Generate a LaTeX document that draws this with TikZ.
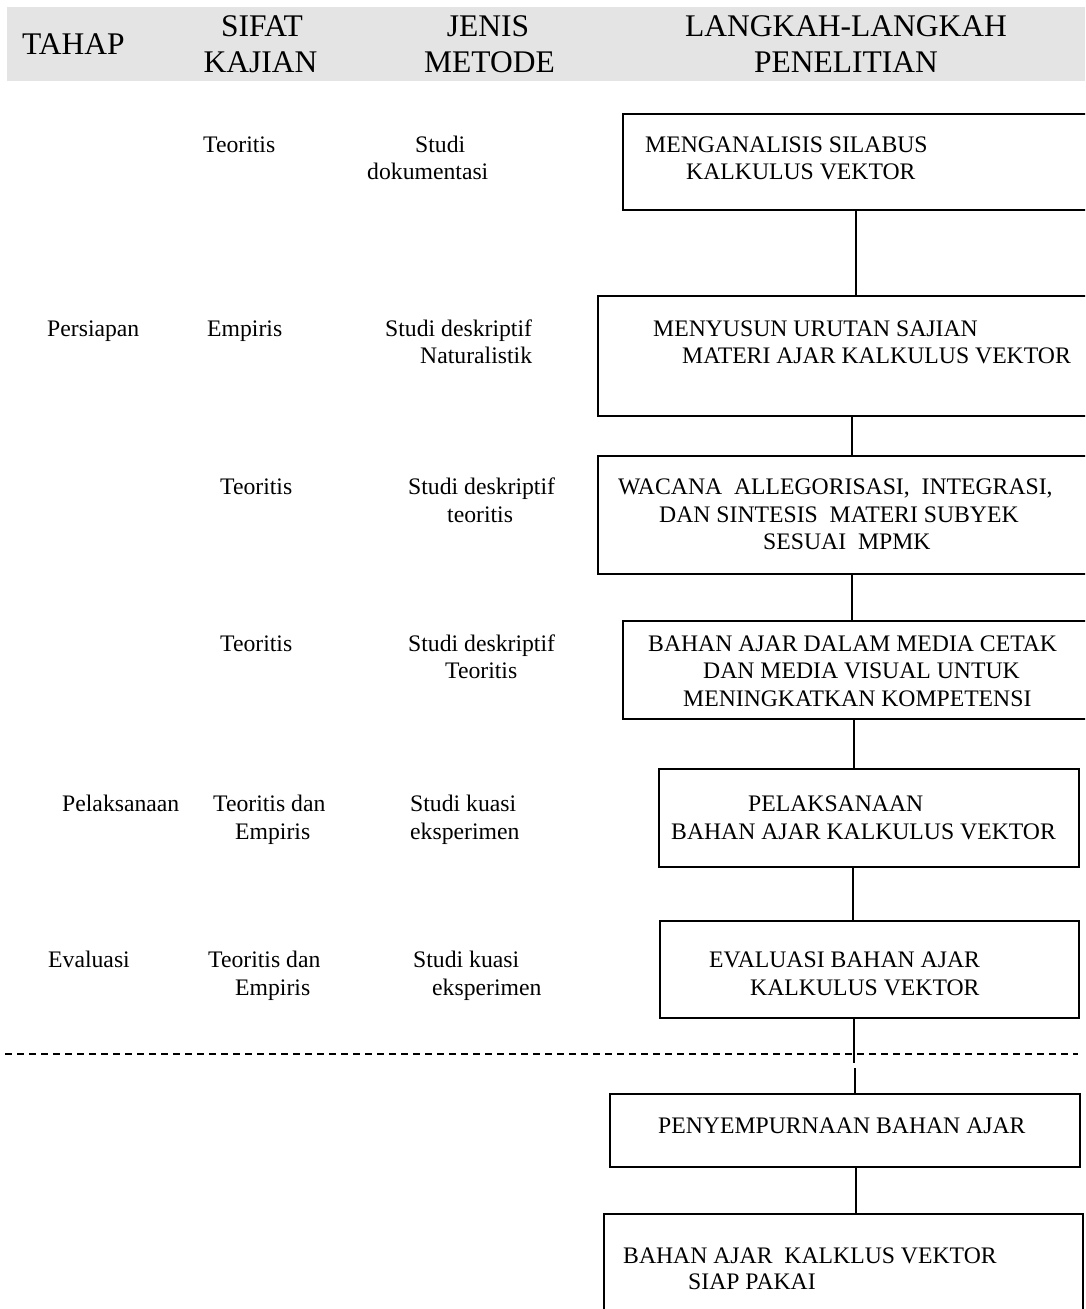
\documentclass[tikz,border=0pt]{standalone}
\usepackage{fontspec}
\setmainfont{Liberation Serif}
\definecolor{hdrgray}{HTML}{E4E4E4}
\begin{document}
\begin{tikzpicture}[x=1pt,y=-1pt,
  box/.style={draw=black, line width=1.6pt, inner sep=0pt, anchor=north west},
  conn/.style={draw=black, line width=1.3pt},
  dashline/.style={draw=black, line width=1.2pt, dash pattern=on 7pt off 5pt},
  txt/.style={inner sep=0pt, anchor=base west, font=\fontsize{23.7}{27.3}\selectfont},
  hdr/.style={inner sep=0pt, anchor=base, font=\fontsize{31.5}{36}\selectfont}]
\useasboundingbox (0,0) rectangle (1085,1309);
\clip (0,0) rectangle (1085,1309);
% header band
\node[fill=hdrgray, inner sep=0pt, anchor=north west, minimum width=1078pt, minimum height=74pt] (band) at (7,7) {};
\node[hdr, anchor=base west] (hT) at (22,54) {TAHAP};
\node[hdr] (hS1) at (262,36) {SIFAT};
\node[hdr] (hS2) at (260.5,72) {KAJIAN};
\node[hdr] (hJ1) at (488,36) {JENIS};
\node[hdr] (hJ2) at (489.5,72) {METODE};
\node[hdr] (hL1) at (846,36) {LANGKAH-LANGKAH};
\node[hdr] (hL2) at (846,72) {PENELITIAN};
% boxes
\node[box, minimum width=478pt, minimum height=96pt] (B1) at (622,113) {};
\node[box, minimum width=503pt, minimum height=120pt] (B2) at (597,295) {};
\node[box, minimum width=503pt, minimum height=118pt] (B3) at (597,455) {};
\node[box, minimum width=478pt, minimum height=98pt] (B4) at (622,620) {};
\node[box, minimum width=420pt, minimum height=98pt] (B5) at (658,768) {};
\node[box, minimum width=419pt, minimum height=97pt] (B6) at (659,920) {};
\node[box, minimum width=470pt, minimum height=73pt] (B7) at (609,1093) {};
\node[box, minimum width=479pt, minimum height=110pt] (B8) at (603,1213) {};
% box texts
\node[txt] (t1a) at (645,152) {MENGANALISIS SILABUS};
\node[txt] (t1b) at (686,179) {KALKULUS VEKTOR};
\node[txt] (t2a) at (653,336) {MENYUSUN URUTAN SAJIAN};
\node[txt] (t2b) at (682,363) {MATERI AJAR KALKULUS VEKTOR};
\node[txt] (t3a) at (618,494) {WACANA\ \ ALLEGORISASI,\ \ INTEGRASI,};
\node[txt] (t3b) at (659,522) {DAN SINTESIS\ \ MATERI SUBYEK};
\node[txt] (t3c) at (763,549) {SESUAI\ \ MPMK};
\node[txt] (t4a) at (648,651) {BAHAN AJAR DALAM MEDIA CETAK};
\node[txt] (t4b) at (703,678) {DAN MEDIA VISUAL UNTUK};
\node[txt] (t4c) at (683,706) {MENINGKATKAN KOMPETENSI};
\node[txt] (t5a) at (748,811) {PELAKSANAAN};
\node[txt] (t5b) at (671,839) {BAHAN AJAR KALKULUS VEKTOR};
\node[txt] (t6a) at (709,967) {EVALUASI BAHAN AJAR};
\node[txt] (t6b) at (750,995) {KALKULUS VEKTOR};
\node[txt] (t7a) at (658,1133) {PENYEMPURNAAN BAHAN AJAR};
\node[txt] (t8a) at (623,1263) {BAHAN AJAR\ \ KALKLUS VEKTOR};
\node[txt] (t8b) at (688,1289) {SIAP PAKAI};
% left columns
\node[txt] (r1s) at (203,152) {Teoritis};
\node[txt] (r1m) at (415,152) {Studi};
\node[txt] (r1m2) at (367,179) {dokumentasi};
\node[txt] (r2t) at (47,336) {Persiapan};
\node[txt] (r2s) at (207,336) {Empiris};
\node[txt] (r2m) at (385,336) {Studi deskriptif};
\node[txt] (r2m2) at (420,363) {Naturalistik};
\node[txt] (r3s) at (220,494) {Teoritis};
\node[txt] (r3m) at (408,494) {Studi deskriptif};
\node[txt] (r3m2) at (447,522) {teoritis};
\node[txt] (r4s) at (220,651) {Teoritis};
\node[txt] (r4m) at (408,651) {Studi deskriptif};
\node[txt] (r4m2) at (445,678) {Teoritis};
\node[txt] (r5t) at (62,811) {Pelaksanaan};
\node[txt] (r5s) at (213,811) {Teoritis dan};
\node[txt] (r5s2) at (235,839) {Empiris};
\node[txt] (r5m) at (410,811) {Studi kuasi};
\node[txt] (r5m2) at (410,839) {eksperimen};
\node[txt] (r6t) at (48,967) {Evaluasi};
\node[txt] (r6s) at (208,967) {Teoritis dan};
\node[txt] (r6s2) at (235,995) {Empiris};
\node[txt] (r6m) at (413,967) {Studi kuasi};
\node[txt] (r6m2) at (432,995) {eksperimen};
% connector x positions
\coordinate (k1) at (856,0);
\coordinate (k2) at (852,0);
\coordinate (k4) at (854,0);
\coordinate (k5) at (853,0);
\coordinate (k7) at (856,0);
\coordinate (g1) at (854,1063);
\coordinate (g2) at (855,1068);
\coordinate (dL) at (5,1054);
\coordinate (dR) at (1078,1054);
% connectors
\draw[conn] (B1.south -| k1) -- (B2.north -| k1);
\draw[conn] (B2.south -| k2) -- (B3.north -| k2);
\draw[conn] (B3.south -| k2) -- (B4.north -| k2);
\draw[conn] (B4.south -| k4) -- (B5.north -| k4);
\draw[conn] (B5.south -| k5) -- (B6.north -| k5);
\draw[conn] (B6.south -| g1) -- (g1);
\draw[conn] (g2) -- (B7.north -| g2);
\draw[conn] (B7.south -| k7) -- (B8.north -| k7);
\draw[dashline] (dL) -- (dR);
\end{tikzpicture}
\end{document}
